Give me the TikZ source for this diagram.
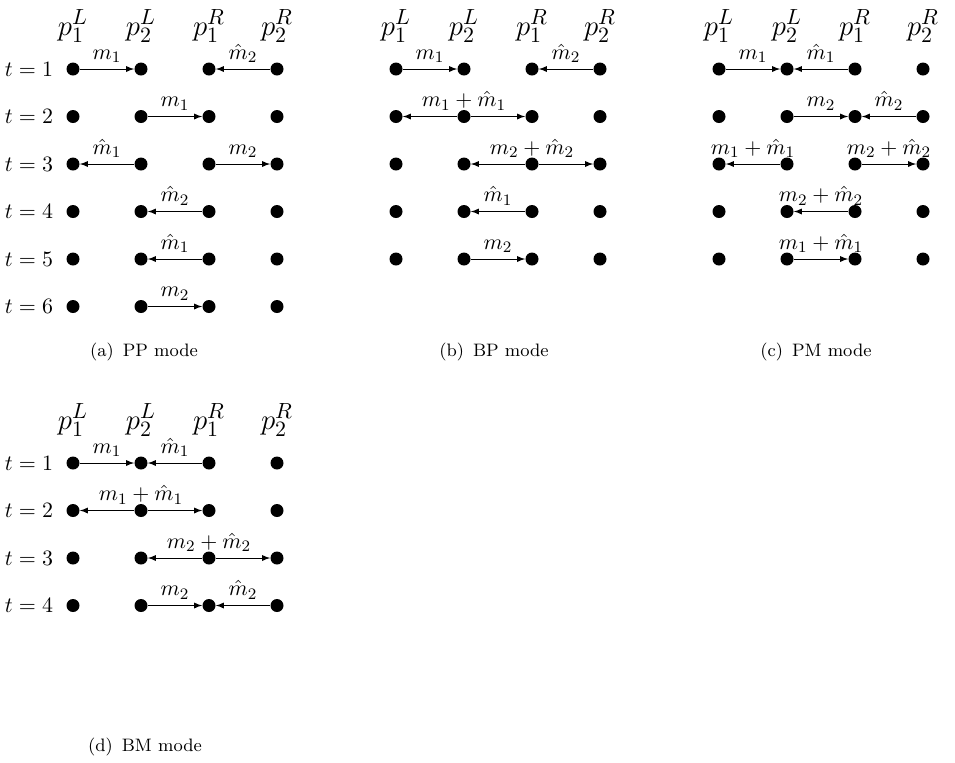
\documentclass[tikz,border=0pt]{standalone}
\usetikzlibrary{positioning}
\tikzset{
  dot/.style={circle, fill, inner sep=0pt, minimum size=6.5pt},
  msg/.style={->, line width=0.4pt},
  lbl/.style={midway, above=2pt, inner sep=1pt},
  hdr/.style={font=\fontsize{15.5}{18}\selectfont},
  subcap/.style={font=\small},
}
\begin{document}
\begin{tikzpicture}[>=latex, x=0.5pt, y=-0.5pt, font=\fontsize{11}{13}\selectfont]
	\useasboundingbox (0,0) rectangle (955,762);
	
	% dots and column headers of the four modes
	\foreach \p/\x/\y/\n in {a/73/69/6, b/396/69/5, c/719/69/5, d/73/463/4} {
		\foreach \i in {1,...,\n} {
			\foreach \j in {1,...,4} {
				\node[dot] (\p-\i-\j) at ({\x+68*(\j-1)}, {\y+47.5*(\i-1)}) {};
			}
		}
		\foreach \j/\s in {1/{^L_1}, 2/{^L_2}, 3/{^R_1}, 4/{^R_2}} {
			\node[hdr] (\p-h\j) at ({\x+68*(\j-1)}, {\y-43}) {$p\s$};
		}
	}
	
	% time steps
	\foreach \i in {1,...,6} {
		\node[left=3pt of a-\i-1] (a-t\i) {$t=\i$};
	}
	\foreach \i in {1,...,4} {
		\node[left=3pt of d-\i-1] (d-t\i) {$t=\i$};
	}
	
	% (a) PP mode
	\draw[msg] (a-1-1) -- (a-1-2) node[lbl] {$m_1$};
	\draw[msg] (a-1-4) -- (a-1-3) node[lbl] {$\hat{m}_2$};
	\draw[msg] (a-2-2) -- (a-2-3) node[lbl] {$m_1$};
	\draw[msg] (a-3-2) -- (a-3-1) node[lbl] {$\hat{m}_1$};
	\draw[msg] (a-3-3) -- (a-3-4) node[lbl] {$m_2$};
	\draw[msg] (a-4-3) -- (a-4-2) node[lbl] {$\hat{m}_2$};
	\draw[msg] (a-5-3) -- (a-5-2) node[lbl] {$\hat{m}_1$};
	\draw[msg] (a-6-2) -- (a-6-3) node[lbl] {$m_2$};
	
	% (b) BP mode
	\draw[msg] (b-1-1) -- (b-1-2) node[lbl] {$m_1$};
	\draw[msg] (b-1-4) -- (b-1-3) node[lbl] {$\hat{m}_2$};
	\draw[msg] (b-2-2) -- (b-2-1);
	\draw[msg] (b-2-2) -- (b-2-3);
	\node[above=2pt of b-2-2.center, inner sep=1pt] (b-l2) {$m_1+\hat{m}_1$};
	\draw[msg] (b-3-3) -- (b-3-2);
	\draw[msg] (b-3-3) -- (b-3-4);
	\node[above=2pt of b-3-3.center, inner sep=1pt] (b-l3) {$m_2+\hat{m}_2$};
	\draw[msg] (b-4-3) -- (b-4-2) node[lbl] {$\hat{m}_1$};
	\draw[msg] (b-5-2) -- (b-5-3) node[lbl] {$m_2$};
	
	% (c) PM mode
	\draw[msg] (c-1-1) -- (c-1-2) node[lbl] {$m_1$};
	\draw[msg] (c-1-3) -- (c-1-2) node[lbl] {$\hat{m}_1$};
	\draw[msg] (c-2-2) -- (c-2-3) node[lbl] {$m_2$};
	\draw[msg] (c-2-4) -- (c-2-3) node[lbl] {$\hat{m}_2$};
	\draw[msg] (c-3-2) -- (c-3-1) node[lbl] {$m_1+\hat{m}_1$};
	\draw[msg] (c-3-3) -- (c-3-4) node[lbl] {$m_2+\hat{m}_2$};
	\draw[msg] (c-4-3) -- (c-4-2) node[lbl] {$m_2+\hat{m}_2$};
	\draw[msg] (c-5-2) -- (c-5-3) node[lbl] {$m_1+\hat{m}_1$};
	
	% (d) BM mode
	\draw[msg] (d-1-1) -- (d-1-2) node[lbl] {$m_1$};
	\draw[msg] (d-1-3) -- (d-1-2) node[lbl] {$\hat{m}_1$};
	\draw[msg] (d-2-2) -- (d-2-1);
	\draw[msg] (d-2-2) -- (d-2-3);
	\node[above=2pt of d-2-2.center, inner sep=1pt] (d-l2) {$m_1+\hat{m}_1$};
	\draw[msg] (d-3-3) -- (d-3-2);
	\draw[msg] (d-3-3) -- (d-3-4);
	\node[above=2pt of d-3-3.center, inner sep=1pt] (d-l3) {$m_2+\hat{m}_2$};
	\draw[msg] (d-4-2) -- (d-4-3) node[lbl] {$m_2$};
	\draw[msg] (d-4-4) -- (d-4-3) node[lbl] {$\hat{m}_2$};
	
	% captions
	\node[subcap] (a-cap) at (144,352) {(a)\enspace PP mode};
	\node[subcap] (b-cap) at (494,352) {(b)\enspace BP mode};
	\node[subcap] (c-cap) at (816,352) {(c)\enspace PM mode};
	\node[subcap] (d-cap) at (145,747) {(d)\enspace BM mode};
	
\end{tikzpicture}
\end{document}
